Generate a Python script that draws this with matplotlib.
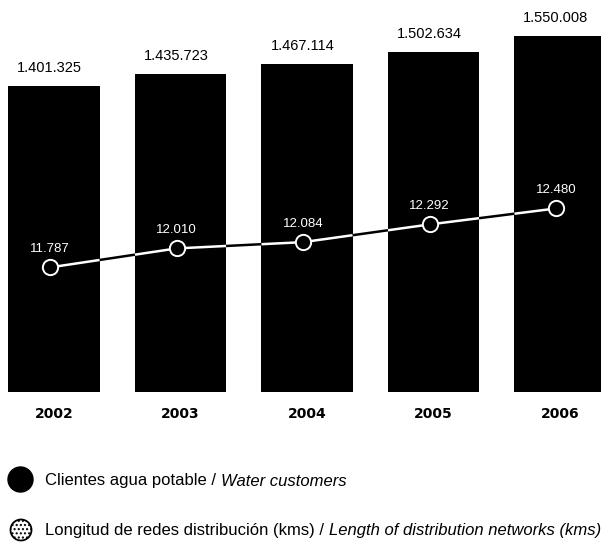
import matplotlib
matplotlib.use("Agg")
import numpy as np
import matplotlib.pyplot as plt
import matplotlib.patches as mpatches
from matplotlib.lines import Line2D

years = ["2002", "2003", "2004", "2005", "2006"]
customers = [1401325, 1435723, 1467114, 1502634, 1550008]
network_km = [11787, 12010, 12084, 12292, 12480]

customer_labels = ["1.401.325", "1.435.723", "1.467.114", "1.502.634", "1.550.008"]
network_labels = ["11.787", "12.010", "12.084", "12.292", "12.480"]

legend_customers = ("Clientes agua potable / ", "Water customers")
legend_network = ("Longitud de redes distribución (kms) / ", "Length of distribution networks (kms)")

TEXT_FONT = ["Liberation Sans", "DejaVu Sans"]

fig = plt.figure(figsize=(6.01, 5.44), dpi=100)
fig.patch.set_facecolor("white")

ax = fig.add_axes([0.0, 152 / 544, 1.0, 392 / 544])
ax.set_facecolor("none")
x = np.arange(len(years))

ax.set_xlim(-0.427, 4.324)
ax.set_ylim(481000, 1658800)
bars = ax.bar(x, customers, width=0.72, color="black", zorder=2)

for xi, val, lab in zip(x, customers, customer_labels):
    ax.annotate(lab, (xi, val), xytext=(-3, 13), textcoords="offset points",
                ha="center", va="center", fontsize=10.5, family=TEXT_FONT,
                color="black", annotation_clip=False)

ax.set_xticks(x)
ax.set_xticklabels(years, fontsize=10, fontweight="bold", family="DejaVu Sans")
ax.tick_params(axis="x", length=0, pad=10.5)
ax.set_yticks([])
for s in ax.spines.values():
    s.set_visible(False)

# Network length on its own scale, drawn across the bars
ax2 = ax.twinx()
ax2.set_ylim(10322, 14931)
ax2.set_xlim(ax.get_xlim())
ax2.set_yticks([])
for s in ax2.spines.values():
    s.set_visible(False)

# the line sits a few pixels left of the bar centres
inv = ax.transData.inverted()
dx = inv.transform((4, 0))[0] - inv.transform((0, 0))[0]
xl = x - dx

# black where it crosses the white gaps ...
ax2.plot(xl, network_km, color="black", lw=1.8, zorder=2, solid_capstyle="butt")
# ... white where it runs over a bar
for b in bars:
    lo = max(b.get_x(), xl[0])
    hi = min(b.get_x() + b.get_width(), xl[-1])
    if hi <= lo:
        continue
    pts = np.concatenate(([lo], xl[(xl > lo) & (xl < hi)], [hi]))
    ax2.plot(pts, np.interp(pts, xl, network_km), color="white", lw=1.8,
             zorder=3, solid_capstyle="butt")
ax2.plot(xl, network_km, linestyle="none", marker="o", markersize=11,
         markerfacecolor="black", markeredgecolor="white", markeredgewidth=1.4,
         zorder=4)

for xi, val, lab in zip(xl, network_km, network_labels):
    ax2.annotate(lab, (xi, val), xytext=(0, 13), textcoords="offset points",
                 ha="center", va="center", fontsize=9.5, family=TEXT_FONT,
                 color="white", annotation_clip=False)

# Legend drawn in figure pixels
W, H = 601, 544

def fx(px):
    return px / W

def fy(py):
    return 1 - py / H

fig.add_artist(Line2D([fx(20)], [fy(479)], marker="o", markersize=18,
                      markerfacecolor="black", markeredgecolor="black",
                      transform=fig.transFigure))
icon = mpatches.Ellipse((fx(21), fy(530)), 21 / W, 21 / H, facecolor="white",
                        edgecolor="black", hatch="....", lw=1.3,
                        transform=fig.transFigure)
fig.add_artist(icon)

for (plain, ital), py in ((legend_customers, 481), (legend_network, 530)):
    t = fig.text(fx(45), fy(py), plain, fontsize=12, family=TEXT_FONT,
                 ha="left", va="center", color="black")
    fig.canvas.draw()
    bb = t.get_window_extent()
    fig.text(bb.x1 / fig.bbox.width, fy(py), ital, fontsize=12, family=TEXT_FONT,
             style="italic", ha="left", va="center", color="black")

fig.savefig("out.png", dpi=100, facecolor="white")
